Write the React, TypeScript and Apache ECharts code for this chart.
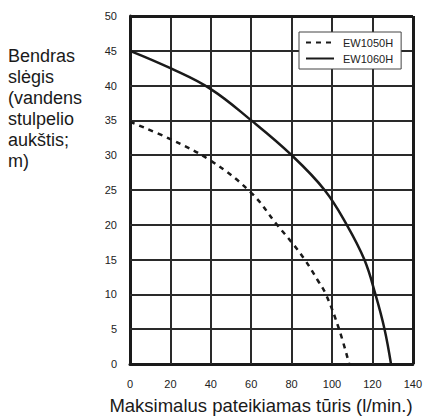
import React, { useEffect, useRef } from "react";
import * as echarts from "echarts";

const seriesNames = ["EW1050H", "EW1060H"];
const xTicks = [0, 20, 40, 60, 80, 100, 120, 140];
const yTicks = [0, 5, 10, 15, 20, 25, 30, 35, 40, 45, 50];
const ew1050h: [number, number][] = [
  [0, 34.8], [20, 32.3], [40, 29.2], [60, 24.6], [72.8, 20], [80, 17.5],
  [86.5, 15], [93, 12], [97, 10], [103.5, 5], [108.5, 0],
];
const ew1060h: [number, number][] = [
  [0, 45], [20, 42.5], [40, 39.5], [60, 35], [80, 30], [96.3, 25],
  [107.3, 20], [116, 15], [121.5, 10], [126, 5], [129.2, 0],
];
const xTitle = "Maksimalus pateikiamas tūris (l/min.)";
const yTitleLines = ["Bendras", "slėgis", "(vandens", "stulpelio", "aukštis;", "m)"];

const FONT = "'Liberation Sans', Arial, Helvetica, sans-serif";
const INK = "#1a1a1a";

export default function App() {
  const ref = useRef<HTMLDivElement>(null);
  useEffect(() => {
    if (!ref.current) return;
    const chart = echarts.init(ref.current, undefined, { renderer: "svg" });
    const xMax = xTicks[xTicks.length - 1];
    const yMax = yTicks[yTicks.length - 1];
    const gridStyle = { color: "#2a2a2a", width: 2, type: "solid" };
    const gridLines = [
      ...xTicks.slice(1, -1).map((v) => ({ xAxis: v, lineStyle: gridStyle })),
      ...yTicks.slice(1, -1).map((v) => ({ yAxis: v, lineStyle: gridStyle })),
    ];
    chart.setOption({
      animation: false,
      grid: { left: 130, right: 10, top: 16, bottom: 56 },
      legend: {
        orient: "vertical",
        left: 299, top: 32,
        backgroundColor: "#fff",
        borderColor: "#444", borderWidth: 1,
        padding: [5, 8, 5, 6],
        itemWidth: 28, itemHeight: 12, itemGap: 5,
        itemStyle: { opacity: 0 },
        textStyle: { fontSize: 11, color: "#222", fontFamily: FONT, padding: [0, 0, 0, 4] },
        data: seriesNames,
        z: 10,
      },
      xAxis: {
        type: "value", min: xTicks[0], max: xMax, interval: 20,
        axisLine: { show: true, onZero: false, lineStyle: { color: INK, width: 3 } },
        axisTick: { show: false },
        axisLabel: { fontSize: 11, color: "#222", margin: 14, fontFamily: FONT },
        splitLine: { show: true, lineStyle: { color: "#2a2a2a", width: 2 } },
      },
      yAxis: {
        type: "value", min: yTicks[0], max: yMax, interval: 5,
        axisLine: { show: true, onZero: false, lineStyle: { color: INK, width: 3 } },
        axisTick: { show: false },
        axisLabel: { fontSize: 11, color: "#222", margin: 13, fontFamily: FONT },
        splitLine: { show: true, lineStyle: { color: "#2a2a2a", width: 2 } },
      },
      series: [
        {
          name: "frame", type: "line", data: [], z: 3,
          markLine: {
            symbol: ["none", "none"],
            label: { show: false },
            lineStyle: { color: INK, width: 3, type: "solid" },
            data: [
              ...gridLines,
              { xAxis: xMax },
              { yAxis: yMax },
            ],
          },
        },
        {
          name: seriesNames[0], type: "line", data: ew1050h, smooth: 0.4,
          symbol: "none", z: 5,
          lineStyle: { color: INK, width: 2.5, type: [5, 5] },
          itemStyle: { color: INK },
        },
        {
          name: seriesNames[1], type: "line", data: ew1060h, smooth: 0.4,
          symbol: "none", z: 5,
          lineStyle: { color: INK, width: 2.5 },
          itemStyle: { color: INK },
        },
      ],
      graphic: [
        {
          type: "text", left: 8, top: 45,
          style: {
            text: yTitleLines.join("\n"), fontSize: 18, lineHeight: 21,
            fill: INK, fontFamily: FONT,
          },
        },
        {
          type: "text", x: 261, y: 405,
          style: {
            text: xTitle, fontSize: 18.5, fill: INK, fontFamily: FONT,
            align: "center", verticalAlign: "middle",
          },
        },
      ],
    });
    return () => chart.dispose();
  }, []);
  return <div ref={ref} style={{ width: 425, height: 420, position: "absolute", left: 0, top: 0 }} />;
}
